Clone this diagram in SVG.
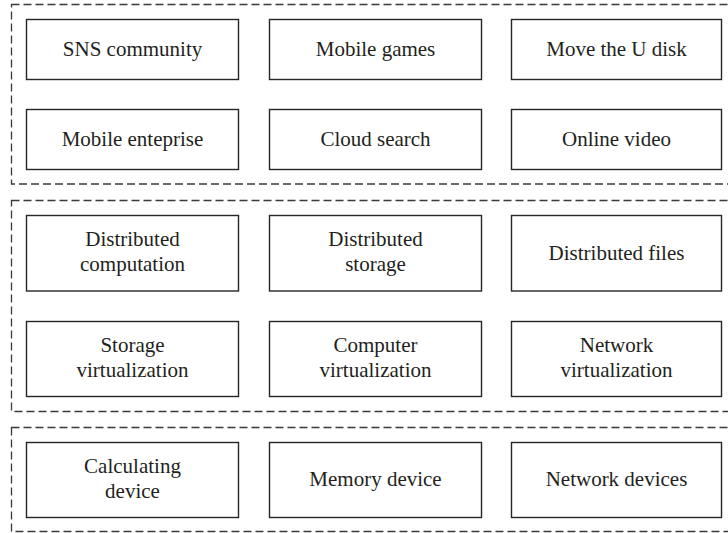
<svg xmlns="http://www.w3.org/2000/svg" width="728" height="533" viewBox="0 0 728 533">
  <style>
    .layer { fill: none; stroke: #3a3a3a; stroke-width: 1.3; stroke-dasharray: 8 4; }
    .box { fill: #ffffff; stroke: #262626; stroke-width: 1.4; }
    .lbl { font-family: "Liberation Serif", "Times New Roman", serif; font-size: 21px; fill: #231f20; text-anchor: middle; }
  </style>
  <rect width="728" height="533" fill="#ffffff"/>

  <!-- layer frames (right side runs past the page edge) -->
  <g id="layers">
    <rect id="layer-apps" class="layer" x="11.5" y="4.5" width="722" height="179.5"/>
    <rect id="layer-platform" class="layer" x="11.5" y="200.5" width="722" height="211"/>
    <rect id="layer-hardware" class="layer" x="11.5" y="427.5" width="722" height="104"/>
  </g>

  <!-- no connectors in this figure -->
  <g id="connectors"/>

  <!-- application layer -->
  <g id="sns-community">
    <rect class="box" x="26.5" y="19.5" width="212" height="60"/>
    <text class="lbl" x="132.5" y="56">SNS community</text>
  </g>
  <g id="mobile-games">
    <rect class="box" x="269.5" y="19.5" width="212" height="60"/>
    <text class="lbl" x="375.5" y="56">Mobile games</text>
  </g>
  <g id="move-u-disk">
    <rect class="box" x="511.5" y="19.5" width="210" height="60"/>
    <text class="lbl" x="616.5" y="56">Move the U disk</text>
  </g>
  <g id="mobile-enterprise">
    <rect class="box" x="26.5" y="109.5" width="212" height="60"/>
    <text class="lbl" x="132.5" y="146">Mobile enteprise</text>
  </g>
  <g id="cloud-search">
    <rect class="box" x="269.5" y="109.5" width="212" height="60"/>
    <text class="lbl" x="375.5" y="146">Cloud search</text>
  </g>
  <g id="online-video">
    <rect class="box" x="511.5" y="109.5" width="210" height="60"/>
    <text class="lbl" x="616.5" y="146">Online video</text>
  </g>

  <!-- platform layer -->
  <g id="distributed-computation">
    <rect class="box" x="26.5" y="215.5" width="212" height="75.5"/>
    <text class="lbl" x="132.5" y="245.5">Distributed</text>
    <text class="lbl" x="132.5" y="270.5">computation</text>
  </g>
  <g id="distributed-storage">
    <rect class="box" x="269.5" y="215.5" width="212" height="75.5"/>
    <text class="lbl" x="375.5" y="245.5">Distributed</text>
    <text class="lbl" x="375.5" y="270.5">storage</text>
  </g>
  <g id="distributed-files">
    <rect class="box" x="511.5" y="215.5" width="210" height="75.5"/>
    <text class="lbl" x="616.5" y="259.5">Distributed files</text>
  </g>
  <g id="storage-virtualization">
    <rect class="box" x="26.5" y="321.5" width="212" height="75"/>
    <text class="lbl" x="132.5" y="351.5">Storage</text>
    <text class="lbl" x="132.5" y="376.5">virtualization</text>
  </g>
  <g id="computer-virtualization">
    <rect class="box" x="269.5" y="321.5" width="212" height="75"/>
    <text class="lbl" x="375.5" y="351.5">Computer</text>
    <text class="lbl" x="375.5" y="376.5">virtualization</text>
  </g>
  <g id="network-virtualization">
    <rect class="box" x="511.5" y="321.5" width="210" height="75"/>
    <text class="lbl" x="616.5" y="351.5">Network</text>
    <text class="lbl" x="616.5" y="376.5">virtualization</text>
  </g>

  <!-- hardware layer -->
  <g id="calculating-device">
    <rect class="box" x="26.5" y="442.5" width="212" height="75"/>
    <text class="lbl" x="132.5" y="472.5">Calculating</text>
    <text class="lbl" x="132.5" y="497.5">device</text>
  </g>
  <g id="memory-device">
    <rect class="box" x="269.5" y="442.5" width="212" height="75"/>
    <text class="lbl" x="375.5" y="486">Memory device</text>
  </g>
  <g id="network-devices">
    <rect class="box" x="511.5" y="442.5" width="210" height="75"/>
    <text class="lbl" x="616.5" y="486">Network devices</text>
  </g>
</svg>
